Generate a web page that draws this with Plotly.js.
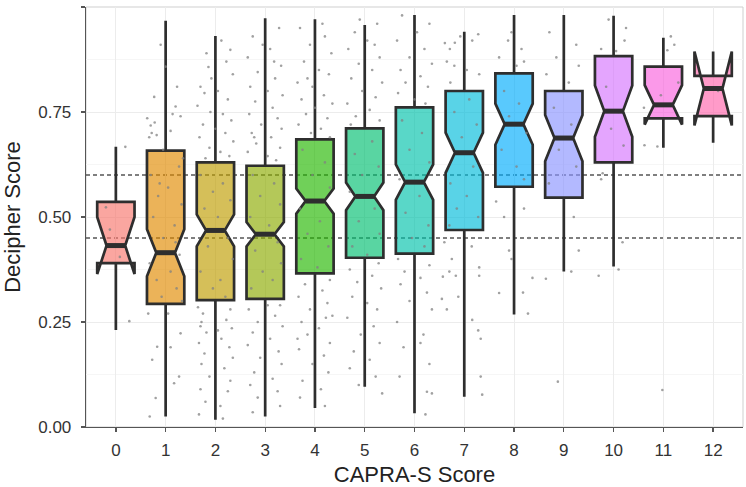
<!DOCTYPE html>
<html>
<head>
<meta charset="utf-8">
<script src="https://cdn.plot.ly/plotly-3.0.1.min.js"></script>
<style>
html,body{margin:0;padding:0;background:#fff;}
#chart{width:746px;height:487px;}
</style>
</head>
<body>
<div id="chart"></div>
<script>
// ---- data ----
const categories = [0,1,2,3,4,5,6,7,8,9,10,11,12];
const tickLabels = ['0','1','2','3','4','5','6','7','8','9','10','11','12'];
const q1 =            [0.390,0.293,0.302,0.305,0.366,0.403,0.413,0.469,0.572,0.546,0.630,0.735,0.740];
const medians =       [0.432,0.415,0.468,0.459,0.538,0.549,0.583,0.653,0.721,0.688,0.752,0.767,0.806];
const q3 =            [0.536,0.658,0.630,0.622,0.685,0.711,0.761,0.800,0.842,0.800,0.883,0.858,0.836];
const lowerWhisker =  [0.231,0.025,0.017,0.025,0.045,0.096,0.033,0.072,0.268,0.370,0.382,0.665,0.677];
const upperWhisker =  [0.667,0.967,0.931,0.973,0.971,0.957,0.981,0.941,0.981,0.981,0.979,0.927,0.870];
const notchSpan =     [0.068,0.056,0.038,0.029,0.030,0.033,0.042,0.048,0.049,0.055,0.061,0.047,0.088];
const cutoffs = [0.45, 0.60];
const boxColors = ['#F8766D','#E18A00','#BE9C00','#8CAB00','#24B700','#00BE70','#00C1AB','#00BBDA','#00ACFC','#8B93FF','#D575FE','#F962DD','#FF65AC'];

// jittered points: [offset from category, score]
const pts0 = [[0.19,0.667],[0.27,0.252],[-0.20,0.523],[0.08,0.405],[-0.12,0.47]];
const pts1 = [[-0.10,0.91],[0.00,0.858],[-0.23,0.786],[0.23,0.81],[0.20,0.763],[-0.37,0.735],[-0.30,0.718],[-0.22,0.725],[-0.28,0.70],[-0.18,0.695],[0.10,0.705],[0.14,0.745],[-0.33,0.69],[0.30,0.74],[-0.05,0.66],[0.27,0.62],[-0.30,0.60],[0.05,0.57],[-0.15,0.55],[0.32,0.53],[-0.25,0.50],[0.18,0.48],[-0.05,0.45],[0.28,0.41],[-0.32,0.39],[0.10,0.37],[-0.18,0.35],[0.22,0.33],[-0.08,0.31],[0.33,0.30],[-0.17,0.191],[0.30,0.223],[-0.27,0.16],[0.10,0.19],[0.17,0.104],[0.27,0.12],[-0.20,0.069],[-0.32,0.025],[0.05,0.27],[-0.35,0.27],[0.35,0.64],[-0.12,0.58],[0.20,0.44]];
const pts2 = [[0.30,0.898],[0.22,0.87],[-0.14,0.857],[-0.08,0.83],[0.35,0.84],[-0.30,0.81],[-0.22,0.795],[0.05,0.80],[0.25,0.78],[-0.36,0.765],[-0.10,0.75],[0.15,0.745],[0.32,0.73],[-0.25,0.72],[0.00,0.71],[0.20,0.70],[-0.32,0.69],[0.36,0.68],[-0.12,0.665],[0.10,0.655],[0.28,0.645],[-0.20,0.64],[-0.30,0.60],[0.15,0.58],[-0.05,0.56],[0.30,0.54],[-0.22,0.52],[0.05,0.50],[0.25,0.45],[-0.15,0.43],[0.35,0.40],[-0.30,0.37],[0.10,0.35],[-0.05,0.33],[0.20,0.31],[-0.35,0.285],[-0.25,0.27],[0.30,0.28],[-0.30,0.24],[0.22,0.255],[0.33,0.235],[-0.18,0.225],[0.12,0.21],[-0.33,0.20],[0.28,0.19],[-0.22,0.175],[0.35,0.165],[-0.28,0.15],[0.18,0.14],[-0.12,0.12],[0.30,0.11],[-0.30,0.09],[0.25,0.085],[-0.20,0.06],[0.10,0.05],[-0.33,0.03],[0.15,0.02],[-0.18,0.89],[0.12,0.92],[-0.28,0.25],[0.05,0.23]];
const pts3 = [[0.28,0.95],[-0.25,0.93],[0.10,0.90],[-0.35,0.88],[0.32,0.86],[-0.15,0.845],[0.20,0.83],[-0.30,0.81],[0.05,0.80],[0.35,0.79],[-0.20,0.775],[0.15,0.76],[-0.32,0.745],[0.25,0.735],[-0.08,0.72],[0.33,0.71],[-0.27,0.70],[0.12,0.69],[-0.18,0.675],[0.30,0.665],[-0.35,0.655],[0.05,0.645],[0.22,0.635],[-0.25,0.60],[0.18,0.58],[-0.10,0.55],[0.30,0.53],[-0.30,0.50],[0.08,0.48],[0.25,0.44],[-0.20,0.42],[0.32,0.39],[-0.05,0.37],[0.15,0.35],[-0.28,0.33],[0.30,0.29],[-0.33,0.28],[0.20,0.265],[-0.15,0.25],[0.35,0.24],[-0.25,0.225],[0.10,0.21],[-0.35,0.195],[0.27,0.18],[-0.10,0.165],[0.33,0.15],[-0.22,0.13],[0.15,0.115],[-0.30,0.10],[0.25,0.085],[-0.15,0.07],[0.30,0.05],[-0.25,0.035],[-0.05,0.91],[0.18,0.87],[-0.22,0.69],[0.05,0.29]];
const pts4 = [[-0.30,0.95],[0.20,0.93],[-0.10,0.91],[0.33,0.89],[-0.22,0.87],[0.08,0.85],[0.28,0.84],[-0.35,0.82],[-0.05,0.81],[0.18,0.79],[-0.27,0.78],[0.35,0.77],[0.00,0.76],[-0.18,0.745],[0.25,0.735],[-0.33,0.72],[0.12,0.71],[-0.08,0.70],[0.30,0.69],[-0.25,0.66],[0.20,0.63],[-0.05,0.60],[0.30,0.57],[-0.30,0.52],[0.10,0.49],[-0.15,0.46],[0.27,0.43],[-0.28,0.40],[0.05,0.38],[0.30,0.35],[-0.20,0.34],[0.15,0.325],[-0.33,0.31],[0.25,0.295],[-0.10,0.28],[0.35,0.265],[-0.27,0.25],[0.08,0.235],[-0.15,0.22],[0.30,0.20],[-0.32,0.185],[0.18,0.17],[-0.05,0.15],[0.27,0.13],[-0.25,0.11],[0.12,0.09],[-0.30,0.07],[0.20,0.05],[0.15,0.96],[-0.15,0.83],[0.22,0.26],[-0.35,0.21]];
const pts5 = [[0.25,0.96],[-0.20,0.94],[0.05,0.92],[-0.33,0.90],[0.30,0.88],[-0.12,0.865],[0.15,0.85],[-0.27,0.83],[0.35,0.82],[-0.05,0.80],[0.22,0.785],[-0.35,0.77],[0.10,0.755],[-0.18,0.74],[0.30,0.73],[-0.28,0.72],[0.15,0.68],[-0.20,0.65],[0.28,0.62],[-0.05,0.60],[-0.30,0.56],[0.20,0.52],[-0.12,0.49],[0.30,0.46],[-0.25,0.43],[0.05,0.41],[0.28,0.39],[-0.30,0.375],[0.15,0.36],[-0.15,0.345],[0.33,0.33],[-0.25,0.31],[0.05,0.295],[0.25,0.28],[-0.35,0.26],[0.18,0.24],[-0.08,0.22],[0.30,0.20],[-0.22,0.18],[0.10,0.16],[-0.30,0.14],[0.22,0.12],[-0.12,0.10],[0.35,0.08],[-0.10,0.97],[0.20,0.91]];
const pts6 = [[-0.25,0.98],[0.30,0.96],[0.05,0.94],[-0.35,0.92],[0.20,0.90],[-0.10,0.88],[0.35,0.865],[-0.28,0.85],[0.12,0.835],[-0.18,0.82],[0.27,0.81],[-0.33,0.795],[0.00,0.78],[0.22,0.77],[-0.25,0.73],[0.15,0.70],[-0.10,0.66],[0.30,0.63],[-0.30,0.59],[0.10,0.55],[-0.18,0.51],[0.28,0.48],[-0.05,0.45],[0.20,0.43],[-0.33,0.40],[0.30,0.385],[-0.20,0.37],[0.12,0.355],[-0.28,0.34],[0.25,0.32],[-0.10,0.30],[0.35,0.28],[-0.35,0.25],[0.18,0.22],[-0.22,0.19],[0.30,0.15],[-0.30,0.12],[0.12,0.20],[0.25,0.084],[0.35,0.08],[0.22,0.03]];
const pts7 = [[-0.39,0.914],[-0.29,0.90],[-0.19,0.915],[-0.08,0.93],[0.16,0.92],[0.28,0.935],[-0.35,0.87],[-0.20,0.86],[0.05,0.85],[0.30,0.84],[-0.28,0.82],[0.10,0.78],[-0.20,0.75],[0.25,0.72],[-0.05,0.69],[0.18,0.62],[-0.28,0.58],[0.05,0.55],[-0.15,0.52],[0.28,0.50],[-0.30,0.48],[-0.40,0.44],[0.15,0.43],[-0.25,0.40],[0.30,0.38],[-0.43,0.358],[-0.30,0.37],[-0.17,0.36],[0.30,0.36],[-0.45,0.305],[-0.12,0.31],[0.28,0.23],[0.16,0.255],[0.33,0.21],[0.33,0.12],[0.36,0.077],[-0.35,0.28]];
const pts8 = [[-0.05,0.94],[-0.12,0.92],[0.15,0.90],[-0.30,0.88],[0.20,0.87],[0.05,0.86],[-0.20,0.80],[0.10,0.77],[-0.10,0.74],[0.25,0.70],[-0.25,0.66],[0.05,0.62],[0.20,0.59],[-0.36,0.537],[0.20,0.52],[-0.20,0.50],[0.30,0.45],[-0.10,0.42],[0.37,0.355],[-0.30,0.319],[0.18,0.32],[0.28,0.27],[-0.05,0.40]];
const pts9 = [[-0.29,0.94],[0.25,0.91],[-0.15,0.88],[0.30,0.86],[-0.35,0.84],[0.10,0.82],[-0.20,0.76],[0.15,0.72],[-0.10,0.66],[0.25,0.62],[-0.30,0.58],[-0.36,0.353],[-0.29,0.45],[0.20,0.50],[0.30,0.42],[-0.12,0.108],[0.15,0.37]];
const pts10 = [[-0.10,0.97],[0.25,0.95],[0.22,0.92],[-0.25,0.90],[0.05,0.895],[-0.15,0.81],[0.10,0.75],[-0.05,0.71],[0.20,0.67],[-0.22,0.604],[-0.25,0.59],[0.18,0.44],[0.10,0.375],[-0.30,0.36]];
const pts11 = [[0.15,0.93],[0.22,0.91],[0.08,0.897],[-0.39,0.76],[-0.38,0.671],[-0.12,0.668],[-0.02,0.088],[-0.05,0.79],[0.30,0.82]];
const pts12 = [[0.10,0.80]];
const allPts = [pts0,pts1,pts2,pts3,pts4,pts5,pts6,pts7,pts8,pts9,pts10,pts11,pts12];

// ---- styling ----
const BOX_WIDTH = 0.75;
const LINE = '#2e2e2e';

function hexToRgba(hex, a) {
  const r = parseInt(hex.slice(1,3),16), g = parseInt(hex.slice(3,5),16), b = parseInt(hex.slice(5,7),16);
  return 'rgba(' + r + ',' + g + ',' + b + ',' + a + ')';
}

const traces = [];
categories.forEach((c, i) => {
  traces.push({
    type: 'box',
    x: [c],
    q1: [q1[i]], median: [medians[i]], q3: [q3[i]],
    lowerfence: [lowerWhisker[i]], upperfence: [upperWhisker[i]],
    notchspan: [notchSpan[i]],
    notched: true,
    notchwidth: 0.25,
    width: BOX_WIDTH,
    whiskerwidth: 0,
    boxpoints: false,
    fillcolor: hexToRgba(boxColors[i], 0.65),
    line: {color: LINE, width: 2.7},
    hoverinfo: 'skip',
    showlegend: false
  });
});

// jitter points
const px = [], py = [];
allPts.forEach((arr, i) => arr.forEach(p => { px.push(categories[i] + p[0]); py.push(p[1]); }));
traces.push({
  type: 'scatter', mode: 'markers', x: px, y: py,
  marker: {size: 2.6, color: 'rgba(130,130,130,0.75)'},
  hoverinfo: 'skip', showlegend: false
});

// thick median bars (ggplot fatten)
const mx = [], my = [];
categories.forEach((c, i) => {
  const hw = BOX_WIDTH / 2 * 0.5;
  mx.push(c - hw, c + hw, null);
  my.push(medians[i], medians[i], null);
});
traces.push({
  type: 'scatter', mode: 'lines', x: mx, y: my,
  line: {color: LINE, width: 5},
  hoverinfo: 'skip', showlegend: false
});

const shapes = [{
  type: 'rect', xref: 'paper', yref: 'paper', x0: 0, x1: 1, y0: 0, y1: 1,
  line: {color: '#cfcfcf', width: 1}, layer: 'below'
}];
cutoffs.forEach(v => shapes.push({
  type: 'line', xref: 'paper', yref: 'y', x0: 0, x1: 1, y0: v, y1: v,
  line: {color: '#555555', width: 1.6, dash: '4px,3px'}, layer: 'below'
}));

const layout = {
  width: 746, height: 487,
  margin: {l: 86, r: 3, t: 7, b: 60},
  paper_bgcolor: '#ffffff', plot_bgcolor: '#ffffff',
  showlegend: false,
  font: {family: 'Liberation Sans, Arial, sans-serif', color: '#333333'},
  xaxis: {
    range: [-0.6, 12.6],
    tickmode: 'array', tickvals: categories, ticktext: tickLabels,
    showgrid: true, gridcolor: '#ececec', gridwidth: 1,
    zeroline: false,
    showline: true, linecolor: '#555555', linewidth: 1.3,
    ticks: 'outside', ticklen: 4, tickcolor: '#555555', tickwidth: 1.3,
    ticklabelstandoff: 3,
    tickfont: {size: 17, color: '#333333'},
    title: {text: 'CAPRA-S Score', font: {size: 22, color: '#222222'}, standoff: 18}
  },
  yaxis: {
    range: [0, 1],
    tickmode: 'array', tickvals: [0, 0.25, 0.5, 0.75, 1],
    ticktext: ['0.00','0.25','0.50','0.75','1.00'],
    showgrid: true, gridcolor: '#ececec', gridwidth: 1,
    minor: {tickvals: [0.125, 0.375, 0.625, 0.875], showgrid: true, gridcolor: '#f6f6f6', gridwidth: 1, ticks: ''},
    zeroline: false,
    showline: true, linecolor: '#555555', linewidth: 1.3,
    ticks: 'outside', ticklen: 4, tickcolor: '#555555', tickwidth: 1.3,
    ticklabelstandoff: 6,
    tickfont: {size: 17, color: '#333333'},
    title: {text: 'Decipher Score', font: {size: 22, color: '#222222'}, standoff: 12}
  },
  shapes: shapes
};

Plotly.newPlot('chart', traces, layout, {displayModeBar: false, staticPlot: true});
</script>
</body>
</html>
